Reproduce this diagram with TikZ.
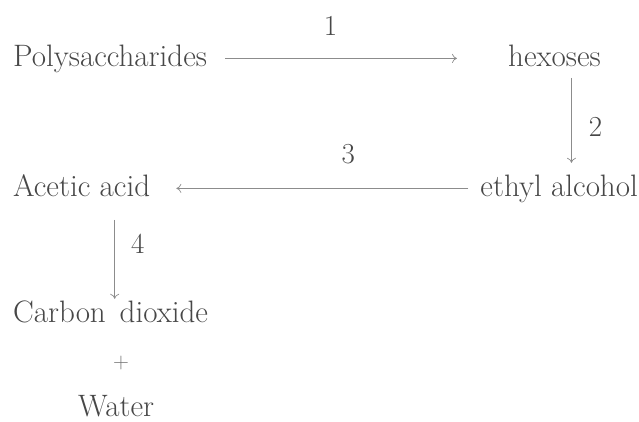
\documentclass[tikz,border=0pt]{standalone}
\usetikzlibrary{arrows.meta}
\begin{document}
\begin{tikzpicture}[
        x=1pt, y=-1pt,
        chem/.style={
            inner sep=0pt,
            text=black!72,
            font=\fontsize{31}{36}\selectfont,
            text height=23pt,
            text depth=7.75pt
        },
        num/.style={
            chem,
            font=\fontsize{29}{34}\selectfont,
            text height=20pt,
            text depth=0pt
        },
        reaz/.style={
            -{To[length=5pt,width=9pt]},
            draw=black!45,
            line width=0.7pt
        }
    ]
        \useasboundingbox (0,0) rectangle (639,421);

        % Composti, posizionati sulla linea di base
        \node[chem, anchor=base west] (poly) at (13,66) {Polysaccharides};
        \node[chem, anchor=base west] (hex) at (508,66) {hexoses};
        \node[chem, anchor=base east] (eth) at (638,196) {ethyl alcohol};
        \node[chem, anchor=base west] (acet) at (13,196) {Acetic acid};
        \node[chem, anchor=base west] (co2) at (13,322) {Carbon\hspace{0.45em}dioxide};
        \node[chem, text=black!55, font=\fontsize{22}{26}\selectfont, text height=15pt, text depth=2pt] (plus) at (121,362) {+};
        \node[chem, anchor=base west] (water) at (78,416) {Water};

        % Reazioni numerate
        \draw[reaz, shorten <=18pt, shorten >=51pt] (poly.east) -- (hex.west)
            node[num, pos=0.41, above=23pt] (r1) {1};
        \draw[reaz, shorten <=4pt, shorten >=10pt] ([xshift=17pt]hex.south) -- ([xshift=17pt]hex.south |- eth.north)
            node[num, midway, right=17pt, yshift=-3pt] (r2) {2};
        \draw[reaz, shorten <=12pt, shorten >=26pt] (eth.west) -- (acet.east)
            node[num, pos=0.40, above=25pt] (r3) {3};
        \draw[reaz, shorten <=16pt] ([xshift=33pt]acet.south) -- ([xshift=33pt]acet.south |- co2.north)
            node[num, pos=0.42, right=16pt] (r4) {4};
    \end{tikzpicture}
\end{document}
